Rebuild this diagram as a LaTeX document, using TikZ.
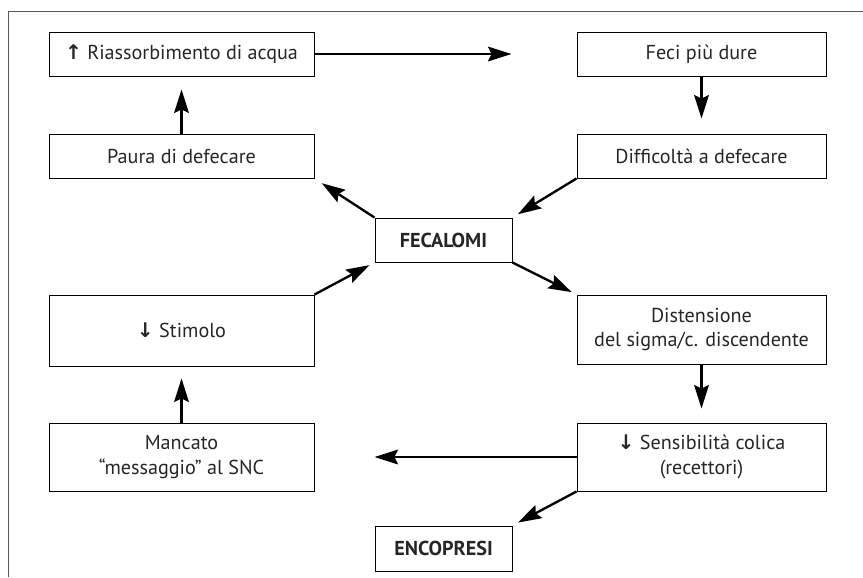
\documentclass[tikz,border=0pt]{standalone}
\usepackage{fontspec}
\setmainfont{PT Sans}
\newfontfamily\arrowfont{DejaVu Sans}
\usetikzlibrary{arrows.meta, positioning}
\tikzset{
	box/.style={draw, rectangle, line width=0.8pt, inner sep=2pt, align=center, text=black!85, font=\fontsize{17.2}{21}\selectfont},
	% wide boxes on the left, narrower ones on the right
	lbox/.style={box, minimum width=7.95cm, minimum height=1.32cm},
	rbox/.style={box, minimum width=7.47cm, minimum height=1.32cm},
	core/.style={box, minimum width=4.11cm, minimum height=1.32cm, font=\fontsize{17.2}{21}\selectfont\bfseries},
	flow/.style={line width=2pt, -{Stealth[length=20pt, width=12.5pt, inset=3pt]}},
}
\newcommand{\up}{{\arrowfont\bfseries\char"2191}}
\newcommand{\down}{{\arrowfont\bfseries\char"2193}}

\begin{document}
\begin{tikzpicture}[x=0.03cm, y=-0.03cm]
	\useasboundingbox (0,0) rectangle (863,577);
	\draw[line width=0.8pt, black!65] (863,11) -- (8,11) -- (8,577);
	
	\node (riass) [lbox] at (181.5,54) {\up\ Riassorbimento di acqua};
	\node (feci) [rbox] at (701.5,54) {Feci più dure};
	\node (paura) [lbox] at (181.5,156) {Paura di defecare};
	\node (diff) [rbox] at (701.5,156) {Difficoltà a defecare};
	\node (fecal) [core] at (443.5,240) {FECALOMI};
	\node (stimolo) [lbox, minimum height=2.13cm] at (181.5,330.5) {\down\ Stimolo};
	\node (disten) [rbox, minimum height=2.07cm] at (701.5,329.5) {Distensione\\del sigma/c. discendente};
	\node (mancato) [lbox, minimum height=2.04cm] at (181.5,457) {Mancato\\“messaggio” al SNC};
	\node (sensib) [rbox, minimum height=2.04cm] at (701.5,457) {\down\ Sensibilità colica\\(recettori)};
	\node (encop) [core, minimum height=1.35cm] at (443.5,548.5) {ENCOPRESI};
	
	\begin{scope}[flow]
		\draw[shorten >=1.95cm] (riass) -- (feci);
		\draw[shorten >=0.45cm] (feci) -- (diff);
		\draw[shorten >=0.19cm] (diff.south west) -- (fecal.north east);
		\draw[shorten >=0.26cm] (fecal.north west) -- (paura.south east);
		\draw[shorten >=0.39cm] (paura) -- (riass);
		\draw[shorten >=0.16cm] (fecal.south east) -- (disten.north west);
		\draw[shorten >=0.42cm] (disten) -- (sensib);
		\draw[shorten >=1.8cm] (sensib) -- (mancato);
		\draw[shorten >=0.36cm] (mancato) -- (stimolo);
		\draw[shorten >=0.17cm] (stimolo.north east) -- (fecal.south west);
		\draw[shorten >=0.19cm] (sensib.south west) -- (encop.north east);
	\end{scope}
\end{tikzpicture}
\end{document}
